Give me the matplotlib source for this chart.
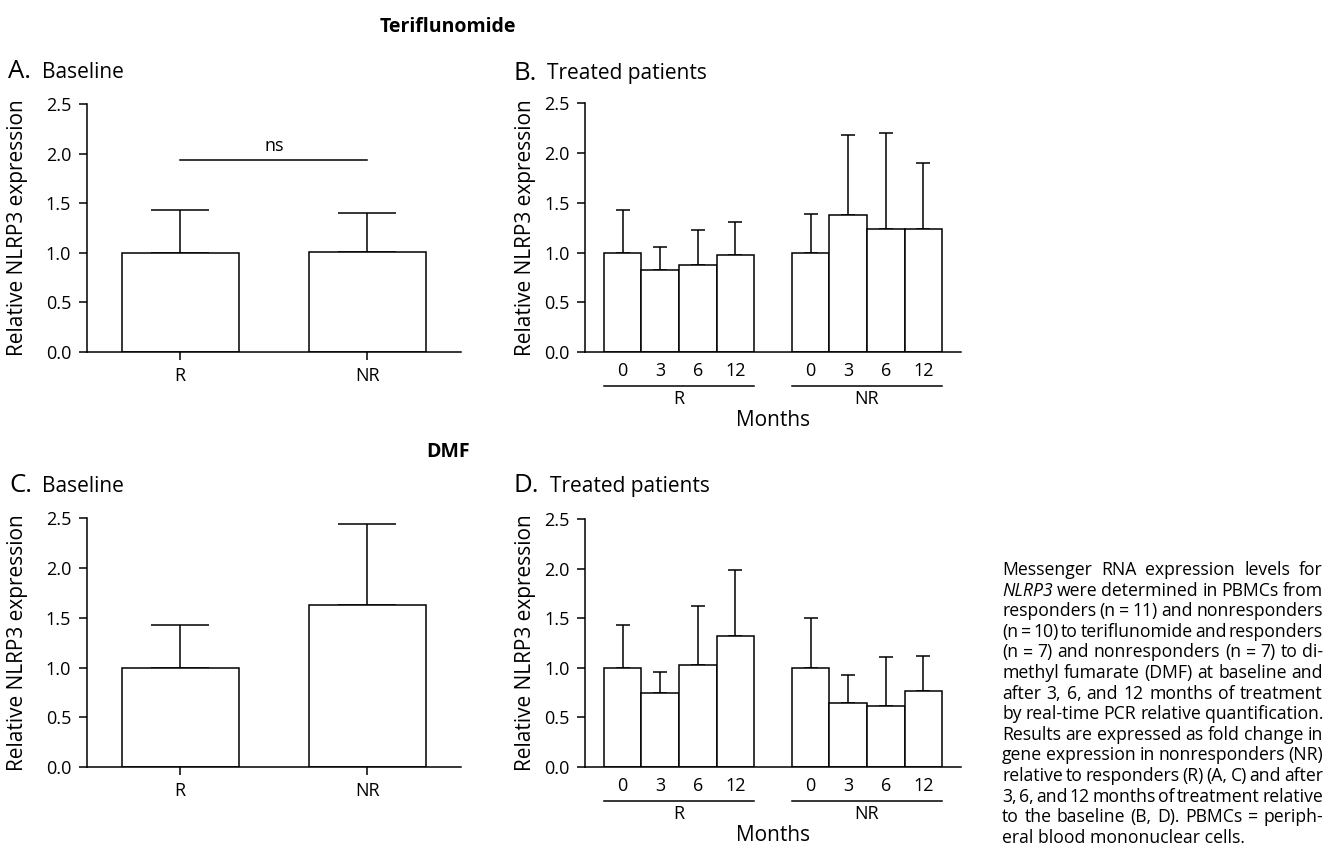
import numpy as np
import matplotlib
matplotlib.use('Agg')
import matplotlib.pyplot as plt
import matplotlib.transforms as mtransforms

plt.rcParams['font.family'] = ['Open Sans', 'DejaVu Sans']

# data
base_groups = ['R', 'NR']
teri_base_mean = [1.00, 1.01]
teri_base_err = [0.43, 0.39]
dmf_base_mean = [1.00, 1.63]
dmf_base_err = [0.43, 0.81]

months = ['0', '3', '6', '12']
teri_R_mean = [1.00, 0.82, 0.87, 0.98]
teri_R_err = [0.43, 0.24, 0.36, 0.33]
teri_NR_mean = [1.00, 1.38, 1.24, 1.24]
teri_NR_err = [0.39, 0.80, 0.96, 0.66]
dmf_R_mean = [1.00, 0.75, 1.03, 1.32]
dmf_R_err = [0.43, 0.21, 0.59, 0.67]
dmf_NR_mean = [1.00, 0.65, 0.61, 0.77]
dmf_NR_err = [0.50, 0.28, 0.50, 0.35]

caption_lines = [
    'Messenger RNA expression levels for',
    '*NLRP3* were determined in PBMCs from',
    'responders (n = 11) and nonresponders',
    '(n = 10) to teriflunomide and responders',
    '(n = 7) and nonresponders (n = 7) to di-',
    'methyl fumarate (DMF) at baseline and',
    'after 3, 6, and 12 months of treatment',
    'by real-time PCR relative quantification.',
    'Results are expressed as fold change in',
    'gene expression in nonresponders (NR)',
    'relative to responders (R) (A, C) and after',
    '3, 6, and 12 months of treatment relative',
    'to the baseline (B, D). PBMCs = periph-',
    'eral blood mononuclear cells.',
]

W, H = 1336, 849
fig = plt.figure(figsize=(W / 100, H / 100), dpi=100)

LW = 1.1
TICK_FS = 13
LABEL_FS = 15


def box(left, top, right, bottom):
    return [left / W, 1 - bottom / H, (right - left) / W, (bottom - top) / H]


def ftext(x, y, s, **kw):
    return fig.text(x / W, 1 - y / H, s, **kw)


def style_axes(ax, label_x):
    for side in ['top', 'right']:
        ax.spines[side].set_visible(False)
    for side in ['left', 'bottom']:
        ax.spines[side].set_linewidth(LW)
    ax.set_ylim(0, 2.5)
    ax.set_yticks(np.arange(0, 2.51, 0.5))
    ax.set_yticklabels(['%.1f' % v for v in np.arange(0, 2.51, 0.5)])
    ax.tick_params(axis='y', direction='out', length=6, width=LW, pad=5, labelsize=TICK_FS)
    ax.set_ylabel('Relative NLRP3 expression', fontsize=LABEL_FS)
    ax.yaxis.set_label_coords(label_x, 0.5)


def below(ax, px):
    return mtransforms.offset_copy(ax.get_xaxis_transform(), fig=fig, y=-px, units='dots')


def baseline_panel(ax, means, errs):
    x = np.arange(len(base_groups))
    ax.bar(x, means, width=0.625, color='white', edgecolor='black', linewidth=LW, zorder=2)
    ax.errorbar(x, means, yerr=[np.zeros(len(means)), errs], fmt='none', ecolor='black',
                elinewidth=LW, capsize=21, capthick=LW, zorder=1)
    ax.set_xlim(-0.5, 1.5)
    ax.set_xticks(x)
    ax.set_xticklabels(base_groups)
    ax.tick_params(axis='x', direction='out', length=6, width=LW, pad=5, labelsize=TICK_FS)
    style_axes(ax, -0.155)


def treated_panel(ax, r_mean, r_err, nr_mean, nr_err):
    xr = np.arange(len(months))
    xn = xr + len(months) + 1
    for xs, m, e in [(xr, r_mean, r_err), (xn, nr_mean, nr_err)]:
        ax.bar(xs, m, width=1.0, color='white', edgecolor='black', linewidth=LW, zorder=2)
        ax.errorbar(xs, m, yerr=[np.zeros(len(m)), e], fmt='none', ecolor='black',
                    elinewidth=LW, capsize=5.2, capthick=LW, zorder=1)
    ax.set_xlim(-1, xn[-1] + 1)
    ax.set_xticks(np.concatenate([xr, xn]))
    ax.set_xticklabels(months + months)
    ax.tick_params(axis='x', length=0, pad=7, labelsize=TICK_FS)
    style_axes(ax, -0.13)
    for xs, name in [(xr, 'R'), (xn, 'NR')]:
        ax.plot([xs[0] - 0.5, xs[-1] + 0.5], [0, 0], color='black', lw=LW,
                transform=below(ax, 33.5), clip_on=False)
        ax.text(xs.mean(), 0, name, ha='center', va='baseline', fontsize=TICK_FS,
                transform=below(ax, 52.3))
    ax.text(0.5, 0, 'Months', ha='center', va='baseline', fontsize=LABEL_FS,
            transform=mtransforms.offset_copy(ax.transAxes, fig=fig, y=-74, units='dots'))


axA = fig.add_axes(box(86.5, 104, 461, 351.7))
axB = fig.add_axes(box(585, 103.3, 961, 352))
axC = fig.add_axes(box(86.5, 518.5, 461, 767))
axD = fig.add_axes(box(585, 519, 961, 767))

baseline_panel(axA, teri_base_mean, teri_base_err)
axA.plot([0, 1], [1.93, 1.93], color='black', lw=LW, zorder=3)
axA.text(0.5, 1.99, 'ns', ha='center', va='bottom', fontsize=TICK_FS)
treated_panel(axB, teri_R_mean, teri_R_err, teri_NR_mean, teri_NR_err)
baseline_panel(axC, dmf_base_mean, dmf_base_err)
treated_panel(axD, dmf_R_mean, dmf_R_err, dmf_NR_mean, dmf_NR_err)

# headings
ftext(448, 31.5, 'Teriflunomide', ha='center', va='baseline', fontsize=14, fontweight='bold')
ftext(448, 456.5, 'DMF', ha='center', va='baseline', fontsize=14, fontweight='bold')
for x0, x1, y, letter, name in [(8.0, 41.7, 78.5, 'A.', 'Baseline'),
                                (514, 547.3, 79.5, 'B.', 'Treated patients'),
                                (9.0, 41.7, 491.7, 'C.', 'Baseline'),
                                (514, 550, 491.7, 'D.', 'Treated patients')]:
    ftext(x0, y, letter, va='baseline', fontsize=18.5)
    ftext(x1, y, name, va='baseline', fontsize=15)

# justified caption on the right; font size fitted so the tightest line still fits
cap_left, cap_right = 1002, 1323
cap_y0, cap_step = 575, 20.6
min_gap = 2.5
renderer = fig.canvas.get_renderer()

fs0 = 10.0
ratios = []
for line in caption_lines[:-1]:
    words = line.split(' ')
    tot = 0
    for w in words:
        st = 'italic' if w.startswith('*') else 'normal'
        t = ftext(0, 0, w.strip('*'), fontsize=fs0, style=st)
        tot += t.get_window_extent(renderer).width
        t.remove()
    ratios.append((cap_right - cap_left - min_gap * (len(words) - 1)) / tot)
cap_fs = fs0 * min(ratios)

for i, line in enumerate(caption_lines):
    y = cap_y0 + i * cap_step
    if i == len(caption_lines) - 1:
        ftext(cap_left, y, line, va='baseline', fontsize=cap_fs)
        continue
    objs = []
    for w in line.split(' '):
        st = 'italic' if w.startswith('*') else 'normal'
        objs.append(ftext(cap_left, y, w.strip('*'), va='baseline', fontsize=cap_fs, style=st))
    widths = [t.get_window_extent(renderer).width for t in objs]
    gap = (cap_right - cap_left - sum(widths)) / (len(objs) - 1)
    x = cap_left
    for t, wd in zip(objs, widths):
        t.set_x(x / W)
        x += wd + gap

fig.savefig('out.png', dpi=100, facecolor='white')
